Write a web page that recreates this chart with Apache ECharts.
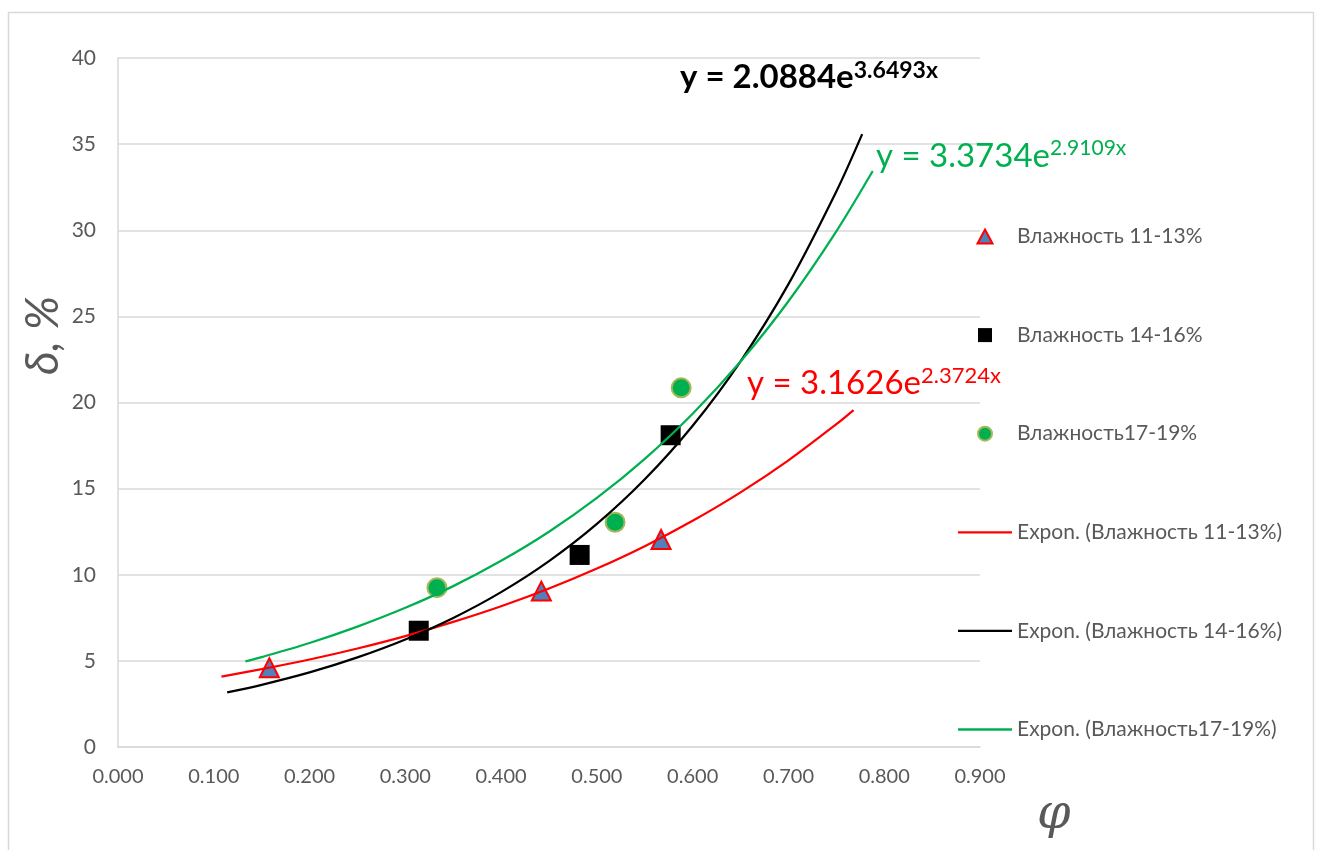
<!DOCTYPE html>
<html>
<head>
<meta charset="utf-8">
<script src="https://cdn.jsdelivr.net/npm/echarts@6/dist/echarts.min.js"></script>
<style>
  html, body { margin: 0; padding: 0; background: #fff; }
  #chart { width: 1322px; height: 850px; }
</style>
</head>
<body>
<div id="chart"></div>
<script>
// measured points (phi, delta %)
var hum1113 = [[0.158, 4.6], [0.442, 9.05], [0.567, 12.05]];
var hum1416 = [[0.314, 6.75], [0.482, 11.15], [0.577, 18.1]];
var hum1719 = [[0.333, 9.25], [0.519, 13.05], [0.588, 20.85]];

// exponential trend lines
var trend1113 = [[0.108, 4.09], [0.15, 4.52], [0.2, 5.08], [0.25, 5.72], [0.3, 6.44], [0.35, 7.26],
  [0.4, 8.17], [0.45, 9.2], [0.5, 10.36], [0.55, 11.66], [0.6, 13.13], [0.65, 14.78],
  [0.7, 16.64], [0.75, 18.74], [0.768, 19.56]];
var trend1416 = [[0.114, 3.17], [0.15, 3.61], [0.2, 4.33], [0.25, 5.2], [0.3, 6.24], [0.35, 7.49],
  [0.4, 8.99], [0.45, 10.79], [0.5, 12.95], [0.55, 15.54], [0.6, 18.65], [0.65, 22.39],
  [0.7, 26.87], [0.75, 32.25], [0.777, 35.58]];
var trend1719 = [[0.133, 4.97], [0.15, 5.22], [0.2, 6.04], [0.25, 6.99], [0.3, 8.08], [0.35, 9.34],
  [0.4, 10.81], [0.45, 12.5], [0.5, 14.46], [0.55, 16.73], [0.6, 19.35], [0.65, 22.38],
  [0.7, 25.88], [0.75, 29.94], [0.788, 33.44]];

var seriesNames = ['Влажность 11-13%', 'Влажность 14-16%', 'Влажность17-19%',
  'Expon. (Влажность 11-13%)', 'Expon. (Влажность 14-16%)', 'Expon. (Влажность17-19%)'];

var eqBlack = ['y = 2.0884e', '3.6493x'];
var eqGreen = ['y = 3.3734e', '2.9109x'];
var eqRed = ['y = 3.1626e', '2.3724x'];

var font = 'Lato, "Open Sans", sans-serif';
var grey = '#595959';

// legend icons (path icons keep their aspect)
var icoTri = 'path://M7.5,0 L15,14 L0,14 Z';
var icoSq = 'path://M0,0 h14 v14 h-14 Z';
var icoDot = 'path://M7,0 A7,7 0 1 1 7,14 A7,7 0 1 1 7,0 Z';
var icoLine = 'path://M0,0 h54 v2.3 h-54 Z';

var myChart = echarts.init(document.getElementById('chart'));

function eqText(x, y, parts, color, bold, size, supSize) {
    return {
        type: 'text',
        left: x,
        top: y,
        z: 100,
        style: {
            text: '{b|' + parts[0] + '}{s|' + parts[1] + '}',
            rich: {
                b: {fontSize: size, fontFamily: font, fontWeight: bold ? 'bold' : 'normal', fill: color, lineHeight: size + 2, verticalAlign: 'bottom'},
                s: {fontSize: supSize, fontFamily: font, fontWeight: bold ? 'bold' : 'normal', fill: color, verticalAlign: 'top', lineHeight: supSize + 2}
            }
        }
    };
}

var option = {
    backgroundColor: '#fff',
    animation: false,
    grid: {left: 118, top: 58, right: 342, bottom: 103},
    legend: {
        orient: 'vertical',
        left: 958,
        top: 226,
        padding: 0,
        itemWidth: 54,
        itemHeight: 14,
        itemGap: 77.6,
        textStyle: {color: grey, fontSize: 21, fontFamily: font},
        data: [
            {name: seriesNames[0], icon: icoTri},
            {name: seriesNames[1], icon: icoSq},
            {name: seriesNames[2], icon: icoDot},
            {name: seriesNames[3], icon: icoLine},
            {name: seriesNames[4], icon: icoLine},
            {name: seriesNames[5], icon: icoLine}
        ]
    },
    xAxis: {
        type: 'value',
        min: 0,
        max: 0.9,
        interval: 0.1,
        axisLine: {show: true, lineStyle: {color: '#d9d9d9', width: 1.5}},
        axisTick: {show: false},
        splitLine: {show: false},
        axisLabel: {
            color: grey, fontSize: 20, fontFamily: font, margin: 20,
            formatter: function (v) { return v.toFixed(3); }
        }
    },
    yAxis: {
        type: 'value',
        min: 0,
        max: 40,
        interval: 5,
        axisLine: {show: true, lineStyle: {color: '#d9d9d9', width: 1.5}},
        axisTick: {show: false},
        splitLine: {show: true, lineStyle: {color: '#d9d9d9', width: 1.5}},
        axisLabel: {color: grey, fontSize: 21, fontFamily: font, margin: 22}
    },
    graphic: [
        {
            type: 'rect',
            shape: {x: 8.5, y: 12.5, width: 1305, height: 900},
            style: {fill: 'none', stroke: '#d9d9d9', lineWidth: 1.5},
            silent: true,
            z: -10
        },
        {
            type: 'text',
            left: 20,
            top: 296,
            rotation: Math.PI / 2,
            style: {text: 'δ, %', fontSize: 46, fontStyle: 'italic', fontFamily: font, fill: grey}
        },
        {
            type: 'text',
            left: 1037,
            top: 792,
            style: {text: 'φ', fontSize: 48, fontStyle: 'italic', fontFamily: '"DejaVu Serif", serif', fill: grey}
        },
        eqText(680, 59, eqBlack, '#000000', true, 33, 23),
        eqText(876, 138, eqGreen, '#00b050', false, 33, 21),
        eqText(747, 365, eqRed, '#ff0000', false, 33, 22)
    ],
    series: [
        {
            name: seriesNames[0],
            type: 'scatter',
            symbol: 'triangle',
            symbolSize: 19,
            itemStyle: {color: '#4f81bd', borderColor: '#ff0000', borderWidth: 2, opacity: 1},
            z: 2,
            data: hum1113
        },
        {
            name: seriesNames[1],
            type: 'scatter',
            symbol: 'rect',
            symbolSize: 20,
            itemStyle: {color: '#000000', opacity: 1},
            z: 2,
            data: hum1416
        },
        {
            name: seriesNames[2],
            type: 'scatter',
            symbol: 'circle',
            symbolSize: 19,
            itemStyle: {color: '#00b050', borderColor: '#a5b95c', borderWidth: 2, opacity: 1},
            z: 2,
            data: hum1719
        },
        {
            name: seriesNames[3],
            type: 'line',
            smooth: 0.3,
            symbol: 'none',
            lineStyle: {color: '#ff0000', width: 2.25},
            itemStyle: {color: '#ff0000'},
            z: 5,
            data: trend1113
        },
        {
            name: seriesNames[4],
            type: 'line',
            smooth: 0.3,
            symbol: 'none',
            lineStyle: {color: '#000000', width: 2.25},
            itemStyle: {color: '#000000'},
            z: 5,
            data: trend1416
        },
        {
            name: seriesNames[5],
            type: 'line',
            smooth: 0.3,
            symbol: 'none',
            lineStyle: {color: '#00b050', width: 2.25},
            itemStyle: {color: '#00b050'},
            z: 5,
            data: trend1719
        }
    ]
};
myChart.setOption(option, true);
</script>
</body>
</html>
